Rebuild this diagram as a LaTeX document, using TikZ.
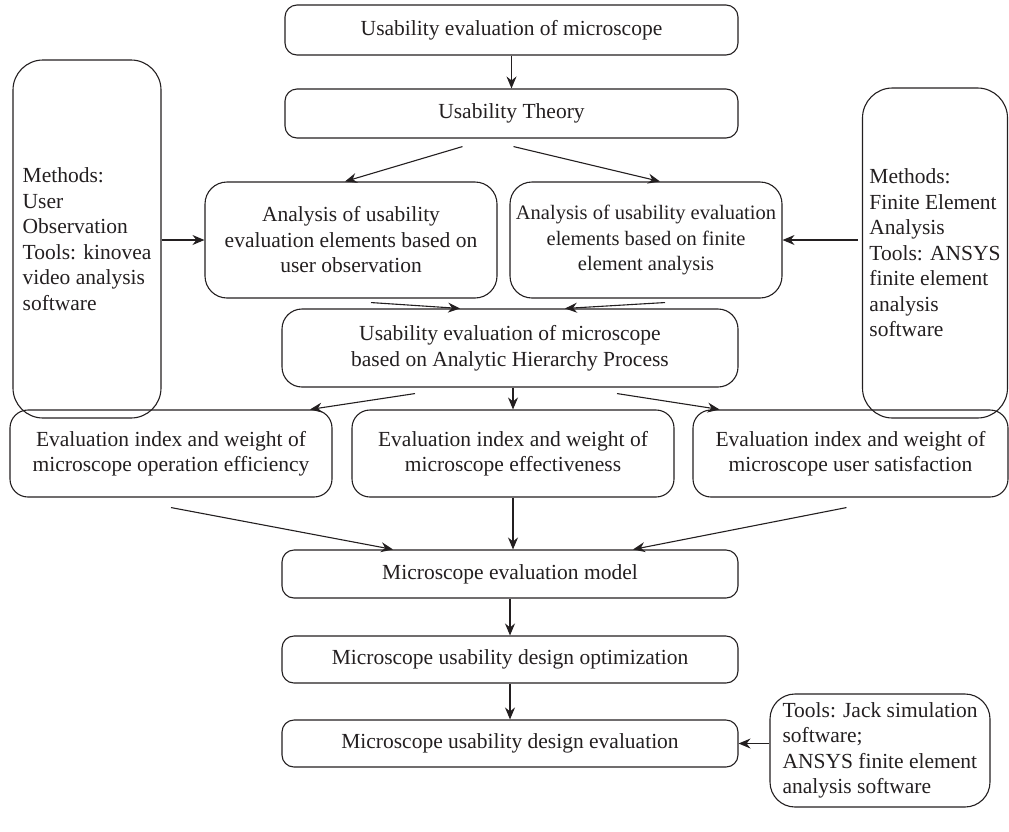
\documentclass[tikz,border=0pt]{standalone}
\usepackage{fontspec}
\setmainfont{Liberation Serif}
\usetikzlibrary{arrows.meta,positioning,calc}
\definecolor{Ink}{HTML}{231F20}

\begin{document}
\begin{tikzpicture}[x=1pt,y=-1pt,
  box/.style={draw=Ink,line width=1.1pt,rounded corners=#1,inner sep=0pt,align=center,text=Ink,font=\fontsize{21.5}{25.5}\selectfont},
  box/.default=12pt,
  side/.style={box=#1,align=left},
  side/.default=28pt,
  arr/.style={draw=Ink,line width=1.1pt,-{Stealth[length=12pt,width=10pt,inset=4pt]}}]
\useasboundingbox (0,0) rectangle (1009,831);
% top chain
\node[box,minimum width=453pt,minimum height=50pt] (goal) at (511.5,30) {Usability evaluation of microscope};
\node[box,minimum width=453pt,minimum height=49pt] (theory) at (511.5,113.5) {Usability Theory};
% side notes
\node[side=30pt,minimum width=148pt,minimum height=358pt] (obs) at (87,239) {Methods:\\User\\Observation\\Tools: kinovea\\video analysis\\software};
\node[side=30pt,minimum width=145pt,minimum height=330pt] (fea) at (935,253) {Methods:\\Finite Element\\Analysis\\Tools: ANSYS\\finite element\\analysis\\software};
% analysis
\node[box=22pt,minimum width=292pt,minimum height=116pt] (ana1) at (351,240) {Analysis of usability\\evaluation elements based on\\user observation};
\node[box=22pt,minimum width=272pt,minimum height=116pt,font=\fontsize{20.5}{25.5}\selectfont] (ana2) at (646,240) {Analysis of usability evaluation\\elements based on finite\\element analysis};
\node[box=20pt,minimum width=456pt,minimum height=78pt] (ahp) at (510,348) {Usability evaluation of microscope\\based on Analytic Hierarchy Process};
% indices
\node[box=18pt,minimum width=322pt,minimum height=87pt] (e1) at (171,453.5) {Evaluation index and weight of\\microscope operation efficiency};
\node[box=18pt,minimum width=322pt,minimum height=87pt] (e2) at (513,453.5) {Evaluation index and weight of\\microscope effectiveness};
\node[box=18pt,minimum width=315pt,minimum height=87pt] (e3) at (850.5,453.5) {Evaluation index and weight of\\microscope user satisfaction};
% bottom chain
\node[box,minimum width=456pt,minimum height=48pt] (model) at (510,574) {Microscope evaluation model};
\node[box,minimum width=456pt,minimum height=47pt] (opt) at (510,659.5) {Microscope usability design optimization};
\node[box,minimum width=456pt,minimum height=47pt] (check) at (510,743.5) {Microscope usability design evaluation};
\node[side=25pt,minimum width=220pt,minimum height=113pt] (jack) at (880,750.5) {Tools: Jack simulation\\software;\\ANSYS finite element\\analysis software};

\draw[arr] (goal) -- (theory);
\draw[arr] ([xshift=-49pt,yshift=-8pt]theory.south) -- ([xshift=-6pt]ana1.north);
\draw[arr] ([xshift=2pt,yshift=-8pt]theory.south) -- ([xshift=14pt]ana2.north);
\draw[arr] (obs.east |- ana1.west) -- (ana1.west);
\draw[arr] ([xshift=-4pt]fea.west |- ana2.east) -- (ana2.east);
\draw[arr] ([xshift=20pt,yshift=-4pt]ana1.south) -- ([xshift=-50pt]ahp.north);
\draw[arr] ([xshift=19pt,yshift=-4pt]ana2.south) -- ([xshift=55pt]ahp.north);
\draw[arr] ([xshift=-95pt,yshift=-6pt]ahp.south) -- ([xshift=139pt]e1.north);
\draw[arr] ([xshift=3pt]ahp.south) -- (e2.north);
\draw[arr] ([xshift=107pt,yshift=-6pt]ahp.south) -- ([xshift=-131pt]e3.north);
\draw[arr] ([yshift=-10pt]e1.south) -- ([xshift=-117pt]model.north);
\draw[arr] (e2.south) -- ([xshift=3pt]model.north);
\draw[arr] ([xshift=-4pt,yshift=-10pt]e3.south) -- ([xshift=123pt]model.north);
\draw[arr] (model) -- (opt);
\draw[arr] (opt) -- (check);
\draw[arr] (jack.west |- check.east) -- (check.east);
\end{tikzpicture}
\end{document}
